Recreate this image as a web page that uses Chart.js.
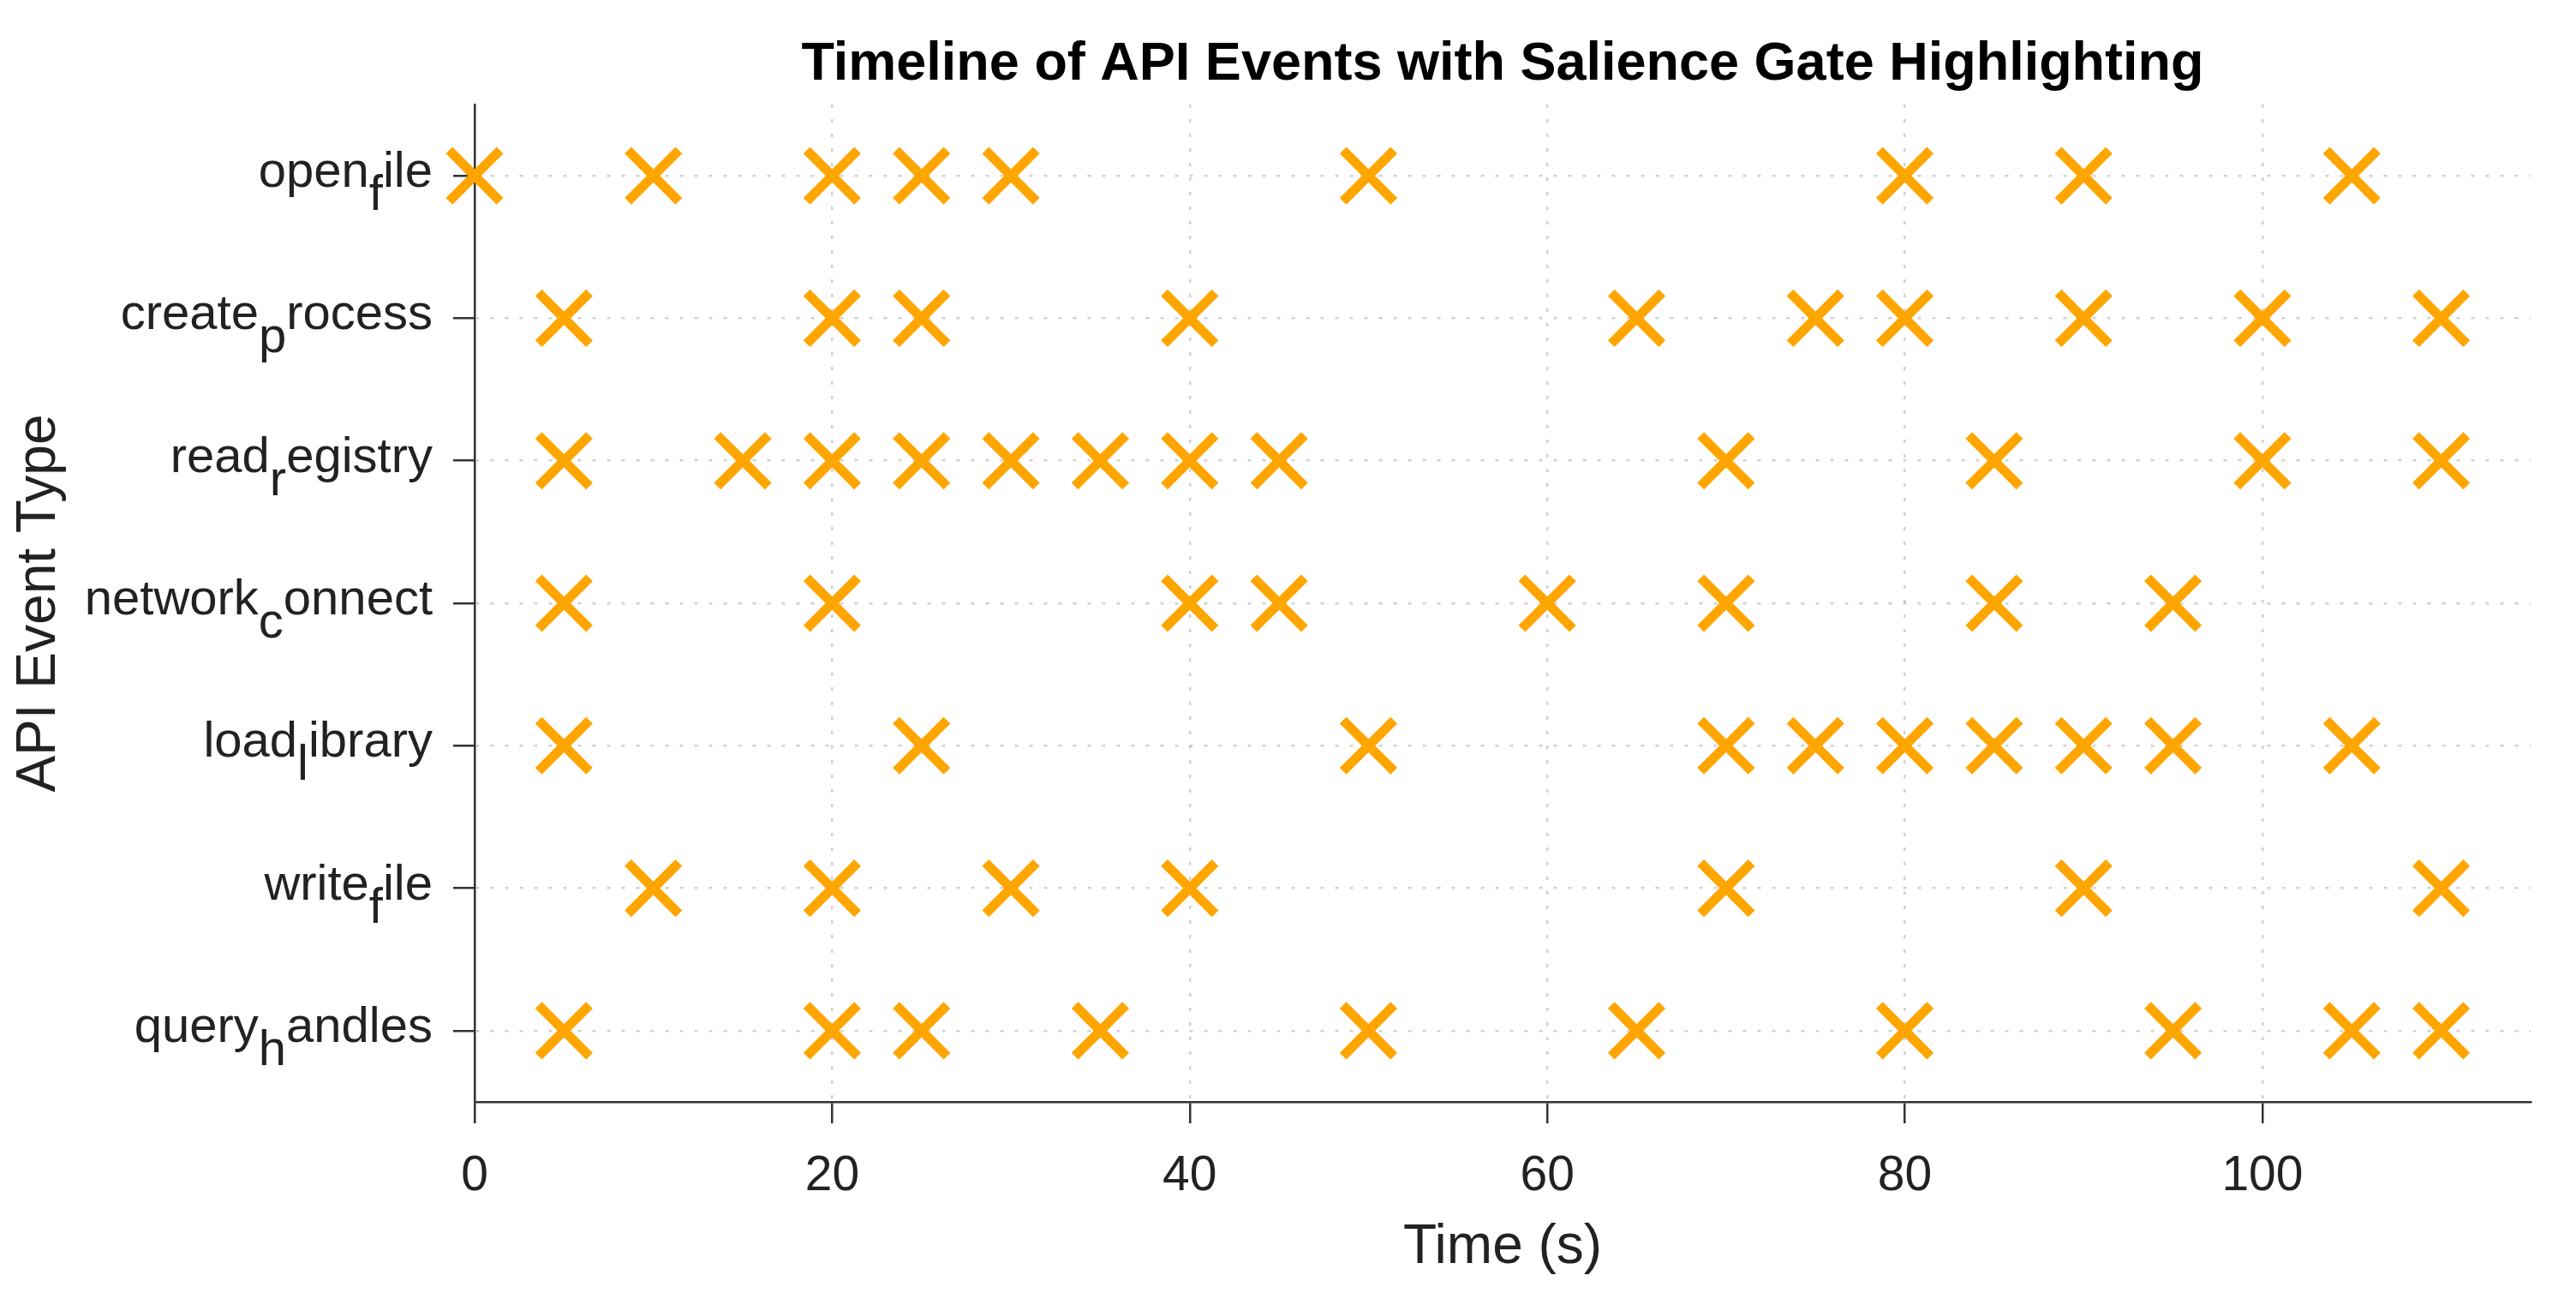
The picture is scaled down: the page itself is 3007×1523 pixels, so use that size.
<!DOCTYPE html>
<html>
<head>
<meta charset="utf-8">
<title>Timeline of API Events with Salience Gate Highlighting</title>
<script src="https://cdn.jsdelivr.net/npm/chart.js@4.4.1/dist/chart.umd.min.js"></script>
<style>
  html, body { margin: 0; padding: 0; background: #fff; }
  #timeline { display: block; }
</style>
</head>
<body>
<canvas id="timeline" width="3007" height="1523"></canvas>
<script>
// rows, top to bottom
const eventTypes = ['open_file', 'create_process', 'read_registry', 'network_connect', 'load_library', 'write_file', 'query_handles'];

// event times (s) per row
const openFileTimes = [0, 10, 20, 25, 30, 50, 80, 90, 105];
const createProcessTimes = [5, 20, 25, 40, 65, 75, 80, 90, 100, 110];
const readRegistryTimes = [5, 15, 20, 25, 30, 35, 40, 45, 70, 85, 100, 110];
const networkConnectTimes = [5, 20, 40, 45, 60, 70, 85, 95];
const loadLibraryTimes = [5, 25, 50, 70, 75, 80, 85, 90, 95, 105];
const writeFileTimes = [10, 20, 30, 40, 70, 90, 110];
const queryHandlesTimes = [5, 20, 25, 35, 50, 65, 80, 95, 105, 110];

const xTicks = [0, 20, 40, 60, 80, 100];

const allTimes = [openFileTimes, createProcessTimes, readRegistryTimes, networkConnectTimes,
                  loadLibraryTimes, writeFileTimes, queryHandlesTimes];

let points = [];
allTimes.forEach(function(times, i) {
  times.forEach(function(t) {
    points.push({x: t, y: eventTypes[i]});
  });
});

const axisColor = '#333333';
const gridColor = 'rgba(0,0,0,0.18)';
const fontFamily = '"Liberation Sans", Arial, sans-serif';

Chart.defaults.font.family = fontFamily;
Chart.defaults.color = '#222222';

// y labels like "open_file" are shown with the letter after "_" lowered
const subscriptLabels = {
  id: 'subscriptLabels',
  afterDraw(chart) {
    const ctx = chart.ctx;
    const yScale = chart.scales.y;
    const labelRight = 505;
    ctx.save();
    ctx.font = '58px ' + fontFamily;
    ctx.fillStyle = '#222222';
    ctx.textAlign = 'left';
    ctx.textBaseline = 'alphabetic';
    eventTypes.forEach(function(name, i) {
      let cut = name.indexOf('_');
      let head = name.slice(0, cut);
      let sub = name.charAt(cut + 1);
      let tail = name.slice(cut + 2);
      let wHead = ctx.measureText(head).width;
      let wSub = ctx.measureText(sub).width;
      let wTail = ctx.measureText(tail).width;
      let yPix = yScale.getPixelForValue(i);
      let x = labelRight - (wHead + wSub + wTail);
      ctx.fillText(head, x, yPix + 13);
      x += wHead;
      ctx.fillText(sub, x, yPix + 40);
      x += wSub;
      ctx.fillText(tail, x, yPix + 13);
    });

    // title, centred over the plot area
    const area = chart.chartArea;
    ctx.font = 'bold 63px ' + fontFamily;
    ctx.fillStyle = '#000000';
    ctx.textAlign = 'center';
    ctx.fillText('Timeline of API Events with Salience Gate Highlighting', (area.left + area.right) / 2, 93);
    ctx.restore();
  }
};

function timelineChart() {
  let ctx = document.querySelector('#timeline').getContext('2d');
  let chart = new Chart(ctx, {
    type: 'scatter',
    data: {
      datasets: [{
        data: points,
        pointStyle: 'crossRot',
        pointRadius: 42,
        pointHoverRadius: 42,
        borderWidth: 11,
        pointBorderWidth: 11,
        borderColor: '#FFA500',
        backgroundColor: '#FFA500',
        clip: false
      }]
    },
    options: {
      responsive: false,
      devicePixelRatio: 1,
      animation: false,
      layout: { padding: {top: 122, right: 39, bottom: 0, left: 0} },
      plugins: {
        legend: { display: false },
        tooltip: { enabled: false }
      },
      scales: {
        x: {
          type: 'linear',
          min: 0,
          max: 115,
          afterBuildTicks: function(scale) {
            scale.ticks = xTicks.map(function(v) { return {value: v}; });
          },
          afterFit: function(scale) { scale.height = 237; },
          grid: {
            color: gridColor,
            lineWidth: 2.5,
            tickLength: 25,
            tickColor: axisColor,
            tickWidth: 2.5
          },
          border: { color: axisColor, width: 2.5, dash: [4, 13] },
          ticks: {
            font: {size: 57},
            color: '#222222',
            padding: 28,
            maxRotation: 0
          },
          title: {
            display: true,
            text: 'Time (s)',
            font: {size: 64},
            color: '#222222',
            padding: {top: 0, bottom: 28}
          }
        },
        y: {
          type: 'category',
          labels: eventTypes,
          offset: true,
          afterFit: function(scale) { scale.width = 554; },
          grid: {
            offset: false,
            color: gridColor,
            lineWidth: 2.5,
            tickLength: 25,
            tickColor: axisColor,
            tickWidth: 2.5
          },
          border: { color: axisColor, width: 2.5, dash: [4, 13] },
          ticks: { display: false },
          title: {
            display: true,
            text: 'API Event Type',
            font: {size: 64},
            color: '#222222',
            padding: {top: 8, bottom: 0}
          }
        }
      }
    },
    plugins: [subscriptLabels]
  });
}
timelineChart();
</script>
</body>
</html>
